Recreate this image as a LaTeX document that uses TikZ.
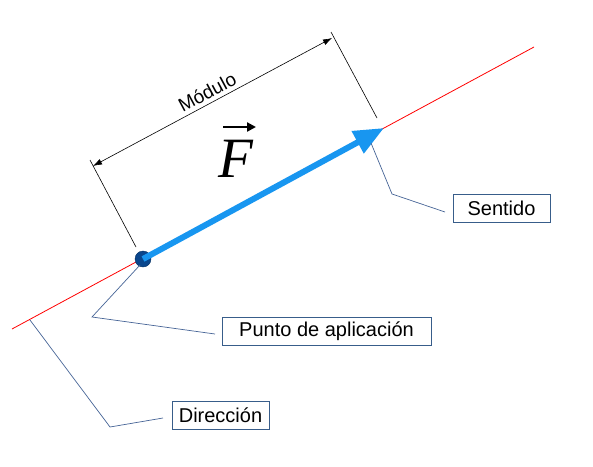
\documentclass[tikz,border=0pt]{standalone}
\usepackage{fontspec}
\setmainfont{Liberation Sans}
\newfontfamily\fserif{Liberation Serif}
\usetikzlibrary{arrows.meta}
\definecolor{vecblue}{RGB}{24,150,240}
\definecolor{dotblue}{RGB}{10,70,140}
\definecolor{boxblue}{RGB}{56,93,138}
\definecolor{leadblue}{RGB}{70,100,150}
\tikzset{
  lbl/.style={draw=boxblue, line width=0.8pt, inner sep=0pt, minimum height=28pt, font=\fontsize{20}{24}\selectfont, text=black},
  leader/.style={draw=leadblue, line width=0.7pt},
  dirline/.style={draw=red, line width=0.8pt},
  dimline/.style={draw=black, line width=0.6pt},
}
\begin{document}
\begin{tikzpicture}[x=1pt,y=-1pt]
\useasboundingbox (0,0) rectangle (593,466);
% line of action
\coordinate (r1) at (12,329);
\coordinate (r2) at (534,47);
\draw[dirline] (r1) -- (r2);
% vector
\node[circle, fill=dotblue, draw=dotblue!70!black, line width=0.4pt, minimum size=16pt, inner sep=0pt] (dot) at (143,259) {};
\coordinate (tip) at (384,128);
\draw[vecblue, line width=6pt, -{Triangle[length=30pt,width=24pt]}] (dot.center) -- (tip);
% dimension
\coordinate (e1a) at (90,160);
\coordinate (e1b) at (136,247);
\coordinate (e2a) at (331,32);
\coordinate (e2b) at (377,118);
\draw[dimline] (e1a) -- (e1b);
\draw[dimline] (e2a) -- (e2b);
\coordinate (d1) at (93,166);
\coordinate (d2) at (332,38);
\draw[dimline, {Latex[length=9pt,width=6pt]}-{Latex[length=9pt,width=6pt]}] (d1) -- node[midway, above, sloped, inner sep=4pt, font=\fontsize{19}{22}\selectfont] (mod) {Módulo} (d2);
% F label
\node[inner sep=0pt, font=\fontsize{57}{62}\fserif\itshape] (F) at (236,159) {F};
\coordinate (fa1) at (223,127);
\coordinate (fa2) at (256,127);
\draw[black, line width=2.2pt, -{Triangle[length=9pt,width=9pt]}] (fa1) -- (fa2);
% labels
\node[lbl, minimum width=97pt] (sent) at (501.5,208.5) {Sentido};
\node[lbl, minimum width=209pt] (punto) at (326.5,331) {Punto de aplicación};
\node[lbl, minimum width=97pt] (dir) at (220.5,415) {Dirección};
% leaders
\coordinate (s0) at (445,212);
\coordinate (s1) at (392,194);
\coordinate (s2) at (371,143);
\draw[leader] (s0) -- (s1) -- (s2);
\coordinate (p0) at (215,334);
\coordinate (p1) at (92,317);
\coordinate (p2) at (140,265);
\draw[leader] (p0) -- (p1) -- (p2);
\coordinate (q0) at (163,418);
\coordinate (q1) at (110,427);
\coordinate (q2) at (30,320);
\draw[leader] (q0) -- (q1) -- (q2);
\end{tikzpicture}
\end{document}
